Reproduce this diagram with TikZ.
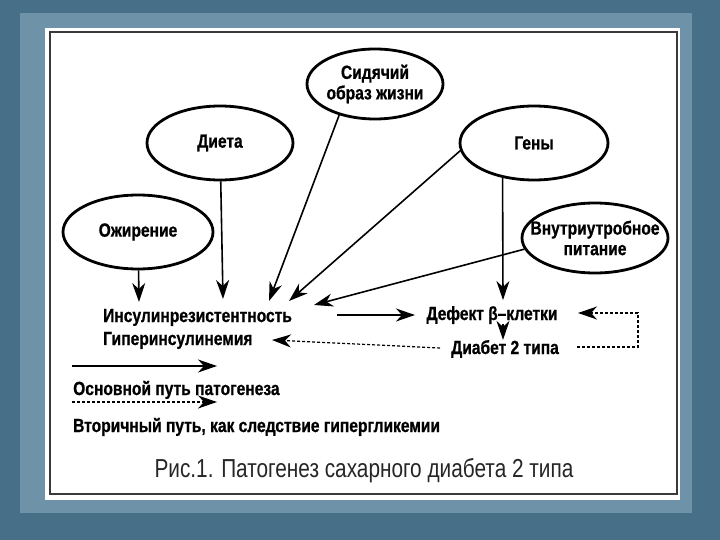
\documentclass[tikz,border=0pt]{standalone}
\usepackage{fontspec}
\setmainfont{Liberation Sans}
\newfontfamily\lblfont[FakeStretch=0.82,BoldFeatures={FakeBold=0.8}]{Liberation Sans}
\newfontfamily\capfont[FakeStretch=0.8]{Liberation Sans}
\usetikzlibrary{shapes.geometric,arrows.meta}
\definecolor{bgblue}{HTML}{476F88}
\definecolor{bandblue}{HTML}{6E93A9}
\definecolor{bordergray}{HTML}{3A3A3A}
\tikzset{
  oval/.style={ellipse,draw=black,line width=2.8pt,inner sep=0pt},
  lbl/.style={inner sep=0pt,align=center,font=\lblfont\bfseries\fontsize{19}{20.5}\selectfont},
  mainpath/.style={line width=1.6pt,-{Stealth[length=19pt,width=13pt,inset=6pt]}},
  secpath/.style={line width=1.2pt,dash pattern=on 3pt off 2pt,-{Stealth[length=19pt,width=13pt,inset=6pt]}},
}
\begin{document}
\begin{tikzpicture}[x=1pt,y=-1pt]
\useasboundingbox (0,0) rectangle (720,540);
\fill[bgblue] (0,0) rectangle (720,540);
\fill[bandblue] (20,13) rectangle (692,513);
\fill[white] (45,28) rectangle (680,500);
\draw[bordergray,line width=1.6pt] (50,32) rectangle (677,494);

% ellipses
\node[oval,minimum width=136pt,minimum height=70pt] (sid) at (375,84) {};
\node[oval,minimum width=146pt,minimum height=74pt] (diet) at (220,143) {};
\node[oval,minimum width=148pt,minimum height=74pt] (genes) at (534,143) {};
\node[oval,minimum width=150pt,minimum height=74pt] (obes) at (138,232) {};
\node[oval,minimum width=146pt,minimum height=70pt] (intra) at (595,238) {};

\node[lbl] (sidt) at (sid) {Сидячий\\образ жизни};
\node[lbl] (dietT) at (diet) {Диета};
\node[lbl] (genesT) at (genes) {Гены};
\node[lbl] (obesT) at (obes) {Ожирение};
\node[lbl] (intraT) at (intra) {Внутриутробное\\питание};

% labels
\node[lbl,anchor=base west] (ins) at (103,322) {Инсулинрезистентность};
\node[lbl,anchor=base west] (gip) at (103,345) {Гиперинсулинемия};
\node[lbl,anchor=base] (def) at (492,320) {Дефект β–клетки};
\node[lbl,anchor=base] (diab) at (505,354) {Диабет 2 типа};

% tips
\coordinate (tobes) at (139,302);
\coordinate (tdiet) at (223,299);
\coordinate (tsid) at (269,301);
\coordinate (tgen) at (289,301);
\coordinate (tint) at (314,305);
\coordinate (tdef) at (503,300);
\coordinate (insout) at (337,315);
\coordinate (defin) at (415,315);
\coordinate (diabout) at (440,348);
\coordinate (gipin) at (272,340);
\coordinate (loopstart) at (577,347);
\coordinate (loopcorner) at (638,313);
\coordinate (loopend) at (578,313);

\draw[mainpath] (obes) -- (tobes);
\draw[mainpath] (diet) -- (tdiet);
\draw[mainpath] (sid.221) -- (tsid);
\draw[mainpath] (genes.186) -- (tgen);
\draw[mainpath] (intra.189) -- (tint);
\draw[mainpath] (genes.228) -- (tdef);
\draw[mainpath] (insout) -- (defin);
\draw[mainpath] (def.south -| tdef) -- (diab.north -| tdef);
\draw[secpath] (diabout) -- (gipin);
\draw[secpath] (loopstart) -| (loopcorner) -- (loopend);

% legend
\coordinate (l1a) at (72,366);
\coordinate (l1b) at (217,366);
\coordinate (l2a) at (72,402);
\coordinate (l2b) at (217,402);
\draw[mainpath] (l1a) -- (l1b);
\draw[secpath] (l2a) -- (l2b);
\node[lbl,anchor=base west] (leg1) at (73,395) {Основной путь патогенеза};
\node[lbl,anchor=base west] (leg2) at (73,432) {Вторичный путь, как следствие гипергликемии};

\node[inner sep=0pt,anchor=base,text=black!85,font=\capfont\fontsize{26}{28}\selectfont] (cap) at (364,477) {Рис.1. Патогенез сахарного диабета 2 типа};
\end{tikzpicture}
\end{document}
